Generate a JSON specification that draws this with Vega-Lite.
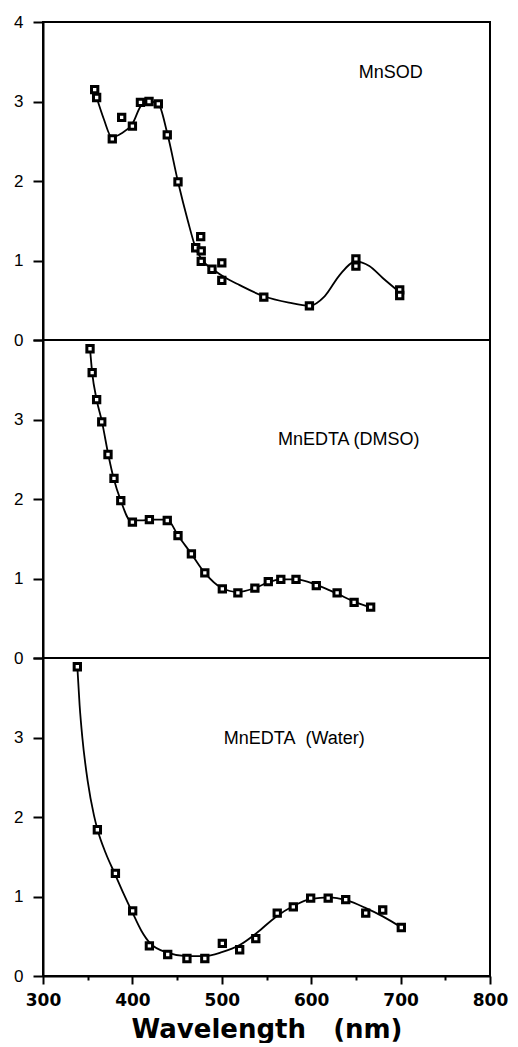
{
  "$schema": "https://vega.github.io/schema/vega-lite/v6.json",
  "background": "white",
  "padding": {"left": 12, "top": 12, "right": 5, "bottom": 0},
  "spacing": 0,
  "bounds": "flush",
  "config": {
    "view": {"stroke": "black", "strokeWidth": 2},
    "axis": {"grid": false, "domainColor": "black", "domainWidth": 2, "tickColor": "black", "tickWidth": 2, "labelColor": "black"},
    "line": {"color": "black", "strokeWidth": 1.8, "interpolate": "monotone"},
    "point": {"shape": "square", "filled": true, "fill": "white", "stroke": "black", "strokeWidth": 3, "size": 40, "opacity": 1}
  },
  "datasets": {
    "points": [
      {"panel": "MnSOD", "nm": 357.8, "abs": 3.15}, {"panel": "MnSOD", "nm": 360, "abs": 3.05}, {"panel": "MnSOD", "nm": 377.5, "abs": 2.53},
      {"panel": "MnSOD", "nm": 388, "abs": 2.80}, {"panel": "MnSOD", "nm": 400, "abs": 2.69}, {"panel": "MnSOD", "nm": 409, "abs": 2.99},
      {"panel": "MnSOD", "nm": 418.6, "abs": 3.0}, {"panel": "MnSOD", "nm": 429, "abs": 2.97}, {"panel": "MnSOD", "nm": 439, "abs": 2.58},
      {"panel": "MnSOD", "nm": 451, "abs": 1.99}, {"panel": "MnSOD", "nm": 470.8, "abs": 1.16}, {"panel": "MnSOD", "nm": 476.4, "abs": 1.30},
      {"panel": "MnSOD", "nm": 477, "abs": 1.12}, {"panel": "MnSOD", "nm": 477, "abs": 0.99}, {"panel": "MnSOD", "nm": 489, "abs": 0.89},
      {"panel": "MnSOD", "nm": 500, "abs": 0.97}, {"panel": "MnSOD", "nm": 500, "abs": 0.75}, {"panel": "MnSOD", "nm": 547, "abs": 0.54},
      {"panel": "MnSOD", "nm": 598, "abs": 0.43}, {"panel": "MnSOD", "nm": 650, "abs": 1.02}, {"panel": "MnSOD", "nm": 650, "abs": 0.93},
      {"panel": "MnSOD", "nm": 699, "abs": 0.63}, {"panel": "MnSOD", "nm": 699, "abs": 0.56},
      {"panel": "DMSO", "nm": 352.6, "abs": 3.89}, {"panel": "DMSO", "nm": 355, "abs": 3.59}, {"panel": "DMSO", "nm": 360, "abs": 3.25},
      {"panel": "DMSO", "nm": 365.7, "abs": 2.97}, {"panel": "DMSO", "nm": 372.7, "abs": 2.56}, {"panel": "DMSO", "nm": 379.4, "abs": 2.26},
      {"panel": "DMSO", "nm": 387, "abs": 1.98}, {"panel": "DMSO", "nm": 400, "abs": 1.71}, {"panel": "DMSO", "nm": 419, "abs": 1.74},
      {"panel": "DMSO", "nm": 439, "abs": 1.73}, {"panel": "DMSO", "nm": 451, "abs": 1.54}, {"panel": "DMSO", "nm": 466, "abs": 1.31},
      {"panel": "DMSO", "nm": 481, "abs": 1.07}, {"panel": "DMSO", "nm": 500.6, "abs": 0.87}, {"panel": "DMSO", "nm": 518, "abs": 0.82},
      {"panel": "DMSO", "nm": 537, "abs": 0.88}, {"panel": "DMSO", "nm": 552, "abs": 0.96}, {"panel": "DMSO", "nm": 566, "abs": 0.99},
      {"panel": "DMSO", "nm": 583, "abs": 0.99}, {"panel": "DMSO", "nm": 605.7, "abs": 0.91}, {"panel": "DMSO", "nm": 629, "abs": 0.82},
      {"panel": "DMSO", "nm": 648, "abs": 0.70}, {"panel": "DMSO", "nm": 666.5, "abs": 0.64},
      {"panel": "Water", "nm": 338.4, "abs": 3.89}, {"panel": "Water", "nm": 360.8, "abs": 1.84}, {"panel": "Water", "nm": 381, "abs": 1.29},
      {"panel": "Water", "nm": 400.3, "abs": 0.82}, {"panel": "Water", "nm": 419, "abs": 0.38}, {"panel": "Water", "nm": 439.5, "abs": 0.27},
      {"panel": "Water", "nm": 461, "abs": 0.22}, {"panel": "Water", "nm": 481, "abs": 0.22}, {"panel": "Water", "nm": 500.6, "abs": 0.41},
      {"panel": "Water", "nm": 520, "abs": 0.33}, {"panel": "Water", "nm": 538, "abs": 0.47}, {"panel": "Water", "nm": 562, "abs": 0.79},
      {"panel": "Water", "nm": 580, "abs": 0.87}, {"panel": "Water", "nm": 599.4, "abs": 0.98}, {"panel": "Water", "nm": 619, "abs": 0.98},
      {"panel": "Water", "nm": 638.6, "abs": 0.96}, {"panel": "Water", "nm": 661, "abs": 0.79}, {"panel": "Water", "nm": 680, "abs": 0.83},
      {"panel": "Water", "nm": 700.8, "abs": 0.61}
    ],
    "curves": [
      {"panel": "MnSOD", "nm": 360, "abs": 3.05}, {"panel": "MnSOD", "nm": 368, "abs": 2.78}, {"panel": "MnSOD", "nm": 377, "abs": 2.55},
      {"panel": "MnSOD", "nm": 388, "abs": 2.6}, {"panel": "MnSOD", "nm": 400, "abs": 2.72}, {"panel": "MnSOD", "nm": 410, "abs": 2.95},
      {"panel": "MnSOD", "nm": 420, "abs": 3.0}, {"panel": "MnSOD", "nm": 429, "abs": 2.97}, {"panel": "MnSOD", "nm": 439, "abs": 2.6},
      {"panel": "MnSOD", "nm": 451, "abs": 1.99}, {"panel": "MnSOD", "nm": 462, "abs": 1.5}, {"panel": "MnSOD", "nm": 471, "abs": 1.15},
      {"panel": "MnSOD", "nm": 480, "abs": 0.98}, {"panel": "MnSOD", "nm": 490, "abs": 0.89}, {"panel": "MnSOD", "nm": 500, "abs": 0.81},
      {"panel": "MnSOD", "nm": 520, "abs": 0.69}, {"panel": "MnSOD", "nm": 547, "abs": 0.55}, {"panel": "MnSOD", "nm": 575, "abs": 0.47},
      {"panel": "MnSOD", "nm": 598, "abs": 0.43}, {"panel": "MnSOD", "nm": 615, "abs": 0.55}, {"panel": "MnSOD", "nm": 632, "abs": 0.82},
      {"panel": "MnSOD", "nm": 650, "abs": 0.99}, {"panel": "MnSOD", "nm": 665, "abs": 0.93}, {"panel": "MnSOD", "nm": 680, "abs": 0.78},
      {"panel": "MnSOD", "nm": 699, "abs": 0.6},
      {"panel": "DMSO", "nm": 352.6, "abs": 3.89}, {"panel": "DMSO", "nm": 355, "abs": 3.59}, {"panel": "DMSO", "nm": 360, "abs": 3.25},
      {"panel": "DMSO", "nm": 366, "abs": 2.97}, {"panel": "DMSO", "nm": 373, "abs": 2.56}, {"panel": "DMSO", "nm": 379, "abs": 2.26},
      {"panel": "DMSO", "nm": 387, "abs": 1.98}, {"panel": "DMSO", "nm": 398, "abs": 1.73}, {"panel": "DMSO", "nm": 410, "abs": 1.73},
      {"panel": "DMSO", "nm": 420, "abs": 1.74}, {"panel": "DMSO", "nm": 439, "abs": 1.74}, {"panel": "DMSO", "nm": 451, "abs": 1.54},
      {"panel": "DMSO", "nm": 466, "abs": 1.31}, {"panel": "DMSO", "nm": 481, "abs": 1.07}, {"panel": "DMSO", "nm": 500, "abs": 0.88},
      {"panel": "DMSO", "nm": 518, "abs": 0.83}, {"panel": "DMSO", "nm": 537, "abs": 0.88}, {"panel": "DMSO", "nm": 552, "abs": 0.95},
      {"panel": "DMSO", "nm": 566, "abs": 0.99}, {"panel": "DMSO", "nm": 583, "abs": 0.99}, {"panel": "DMSO", "nm": 606, "abs": 0.92},
      {"panel": "DMSO", "nm": 629, "abs": 0.81}, {"panel": "DMSO", "nm": 648, "abs": 0.71}, {"panel": "DMSO", "nm": 666, "abs": 0.64},
      {"panel": "Water", "nm": 338.4, "abs": 3.89}, {"panel": "Water", "nm": 341, "abs": 3.4}, {"panel": "Water", "nm": 344, "abs": 3.0},
      {"panel": "Water", "nm": 350, "abs": 2.45}, {"panel": "Water", "nm": 357, "abs": 2.02}, {"panel": "Water", "nm": 361, "abs": 1.84},
      {"panel": "Water", "nm": 370, "abs": 1.55}, {"panel": "Water", "nm": 381, "abs": 1.27}, {"panel": "Water", "nm": 390, "abs": 1.04},
      {"panel": "Water", "nm": 400, "abs": 0.8}, {"panel": "Water", "nm": 410, "abs": 0.57}, {"panel": "Water", "nm": 420, "abs": 0.41},
      {"panel": "Water", "nm": 440, "abs": 0.29}, {"panel": "Water", "nm": 460, "abs": 0.25}, {"panel": "Water", "nm": 480, "abs": 0.25},
      {"panel": "Water", "nm": 500, "abs": 0.3}, {"panel": "Water", "nm": 520, "abs": 0.39}, {"panel": "Water", "nm": 540, "abs": 0.55},
      {"panel": "Water", "nm": 560, "abs": 0.74}, {"panel": "Water", "nm": 580, "abs": 0.88}, {"panel": "Water", "nm": 600, "abs": 0.97},
      {"panel": "Water", "nm": 620, "abs": 0.99}, {"panel": "Water", "nm": 640, "abs": 0.95}, {"panel": "Water", "nm": 660, "abs": 0.86},
      {"panel": "Water", "nm": 680, "abs": 0.75}, {"panel": "Water", "nm": 701, "abs": 0.61}
    ],
    "one": [{}]
  },
  "vconcat": [
    {
      "width": 447, "height": 318,
      "layer": [
        {"data": {"name": "curves"}, "transform": [{"filter": "datum.panel == 'MnSOD'"}], "mark": "line",
         "encoding": {
           "x": {"field": "nm", "type": "quantitative", "scale": {"domain": [300, 800], "nice": false}, "axis": null},
           "y": {"field": "abs", "type": "quantitative", "scale": {"domain": [0, 4], "nice": false},
                 "axis": {"title": null, "format": "d", "values": [0, 0.5, 1, 1.5, 2, 2.5, 3, 3.5, 4], "labelExpr": "datum.value % 1 == 0 ? datum.label : ''",
                          "tickSize": {"condition": {"test": "datum.value % 1 != 0", "value": 5}, "value": 10}, "labelPadding": 10,
                          "labelFont": "Liberation Sans", "labelFontSize": 17, "labelFontWeight": "normal"}}
         }},
        {"data": {"name": "points"}, "transform": [{"filter": "datum.panel == 'MnSOD'"}], "mark": "point",
         "encoding": {"x": {"field": "nm", "type": "quantitative"}, "y": {"field": "abs", "type": "quantitative"}}},
        {"data": {"name": "one"}, "mark": {"type": "text", "font": "Liberation Sans", "fontSize": 18, "color": "black", "align": "center", "baseline": "middle"},
         "encoding": {"x": {"datum": 689}, "y": {"datum": 3.36}, "text": {"value": "MnSOD"}}}
      ]
    },
    {
      "width": 447, "height": 318,
      "layer": [
        {"data": {"name": "curves"}, "transform": [{"filter": "datum.panel == 'DMSO'"}], "mark": "line",
         "encoding": {
           "x": {"field": "nm", "type": "quantitative", "scale": {"domain": [300, 800], "nice": false}, "axis": null},
           "y": {"field": "abs", "type": "quantitative", "scale": {"domain": [0, 4], "nice": false},
                 "axis": {"title": null, "format": "d", "values": [0, 0.5, 1, 1.5, 2, 2.5, 3, 3.5, 4], "labelExpr": "datum.value % 1 == 0 && datum.value < 4 ? datum.label : ''",
                          "tickSize": {"condition": {"test": "datum.value % 1 != 0", "value": 5}, "value": 10}, "labelPadding": 10,
                          "labelFont": "Liberation Sans", "labelFontSize": 17, "labelFontWeight": "normal"}}
         }},
        {"data": {"name": "points"}, "transform": [{"filter": "datum.panel == 'DMSO'"}], "mark": "point",
         "encoding": {"x": {"field": "nm", "type": "quantitative"}, "y": {"field": "abs", "type": "quantitative"}}},
        {"data": {"name": "one"}, "mark": {"type": "text", "font": "Liberation Sans", "fontSize": 18, "color": "black", "align": "center", "baseline": "middle"},
         "encoding": {"x": {"datum": 642}, "y": {"datum": 2.74}, "text": {"value": "MnEDTA (DMSO)"}}}
      ]
    },
    {
      "width": 447, "height": 318,
      "layer": [
        {"data": {"name": "curves"}, "transform": [{"filter": "datum.panel == 'Water'"}], "mark": "line",
         "encoding": {
           "x": {"field": "nm", "type": "quantitative", "scale": {"domain": [300, 800], "nice": false},
                 "axis": {"title": "Wavelength\u00a0\u00a0\u00a0(nm)", "values": [300, 350, 400, 450, 500, 550, 600, 650, 700, 750, 800],
                          "labelExpr": "datum.value % 100 == 0 ? datum.label : ''",
                          "tickSize": {"condition": {"test": "datum.value % 100 != 0", "value": 4}, "value": 8}, "labelPadding": 8,
                          "labelFont": "DejaVu Sans", "labelFontSize": 17, "labelFontWeight": "bold", "labelFlush": false,
                          "titleFont": "DejaVu Sans", "titleFontSize": 26, "titleFontWeight": "bold", "titleColor": "black", "titlePadding": 8}},
           "y": {"field": "abs", "type": "quantitative", "scale": {"domain": [0, 4], "nice": false},
                 "axis": {"title": null, "format": "d", "values": [0, 0.5, 1, 1.5, 2, 2.5, 3, 3.5, 4], "labelExpr": "datum.value % 1 == 0 && datum.value < 4 ? datum.label : ''",
                          "tickSize": {"condition": {"test": "datum.value % 1 != 0", "value": 5}, "value": 10}, "labelPadding": 10,
                          "labelFont": "Liberation Sans", "labelFontSize": 17, "labelFontWeight": "normal"}}
         }},
        {"data": {"name": "points"}, "transform": [{"filter": "datum.panel == 'Water'"}], "mark": "point",
         "encoding": {"x": {"field": "nm", "type": "quantitative"}, "y": {"field": "abs", "type": "quantitative"}}},
        {"data": {"name": "one"}, "mark": {"type": "text", "font": "Liberation Sans", "fontSize": 18, "color": "black", "align": "center", "baseline": "middle"},
         "encoding": {"x": {"datum": 581}, "y": {"datum": 2.98}, "text": {"value": "MnEDTA\u00a0\u00a0(Water)"}}}
      ]
    }
  ]
}
